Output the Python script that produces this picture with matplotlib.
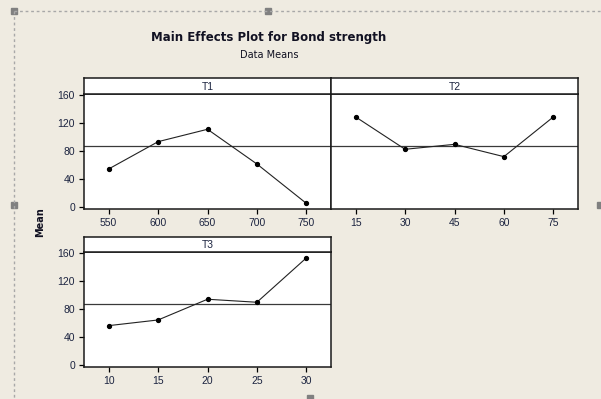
import matplotlib
matplotlib.use("Agg")
import matplotlib.pyplot as plt
from matplotlib.patches import Rectangle

# Factor levels and data means for each factor
t1_levels = ["550", "600", "650", "700", "750"]
t1_means = [54.3, 93.3, 111.0, 61.4, 5.2]

t2_levels = ["15", "30", "45", "60", "75"]
t2_means = [128.6, 82.4, 89.5, 71.9, 128.6]

t3_levels = ["10", "15", "20", "25", "30"]
t3_means = [56.2, 64.3, 93.9, 89.6, 152.9]

grand_mean = 87.8
y_ticks = [0, 40, 80, 120, 160]

W, H = 601, 399
BG = "#EFEBE1"
TXT = "#1c2440"

plt.rcParams["font.family"] = ["Liberation Sans", "DejaVu Sans"]
fig = plt.figure(figsize=(W / 100, H / 100), dpi=100)
fig.patch.set_facecolor(BG)


def rect(x0, y0, x1, y1):
    return [x0 / W, 1 - y1 / H, (x1 - x0) / W, (y1 - y0) / H]


def panel(x0, x1, ytop, ybot, strip_h, levels, means, label, show_y):
    ax = fig.add_axes(rect(x0, ytop, x1, ybot))
    ax.set_facecolor("white")
    xs = list(range(len(levels)))
    ax.axhline(grand_mean, color="#3a3a3a", lw=0.9, zorder=1)
    ax.plot(xs, means, color="#222222", lw=0.8, marker="o", ms=2.8,
            mfc="black", mec="black", zorder=3)
    ax.set_xlim(-0.5, len(levels) - 0.5)
    ax.set_ylim(-2.9, 161.4)
    ax.set_xticks(xs)
    ax.set_xticklabels(levels)
    ax.set_yticks(y_ticks)
    if not show_y:
        ax.tick_params(axis="y", left=False, labelleft=False)
    ax.tick_params(direction="out", length=3.5, width=0.9, colors="black",
                   labelcolor=TXT, labelsize=7.5, pad=3)
    for s in ax.spines.values():
        s.set_linewidth(1.1)
        s.set_color("#1a1a1a")
    # strip header above the data area
    sx = fig.add_axes(rect(x0, ytop - strip_h, x1, ytop))
    sx.set_facecolor("white")
    sx.set_xticks([])
    sx.set_yticks([])
    for s in sx.spines.values():
        s.set_linewidth(1.1)
        s.set_color("#1a1a1a")
    sx.text(0.5, 0.45, label, ha="center", va="center", fontsize=7.5,
            color=TXT, transform=sx.transAxes)
    return ax


panel(84, 331, 94, 209, 16, t1_levels, t1_means, "T1", True)
panel(331, 578, 94, 209, 16, t2_levels, t2_means, "T2", False)
panel(84, 331, 252, 367, 15, t3_levels, t3_means, "T3", True)

fig.text(269 / W, 1 - 38 / H, "Main Effects Plot for Bond strength",
         ha="center", va="center", fontsize=8.5, fontweight="bold",
         color="#111122", family="DejaVu Sans")
fig.text(269 / W, 1 - 55 / H, "Data Means", ha="center", va="center",
         fontsize=7, color="#111122", family="DejaVu Sans")
fig.text(40 / W, 1 - 222 / H, "Mean", ha="center", va="center", rotation=90,
         fontsize=7, fontweight="bold", color="#111122", family="DejaVu Sans")

# dashed selection frame with handles
frame = fig.add_axes([0, 0, 1, 1], facecolor="none")
frame.set_xlim(0, W)
frame.set_ylim(H, 0)
frame.axis("off")
frame.plot([14, 14], [11, 399], ls=(0, (2, 2)), color="#a8a8a8", lw=1)
frame.plot([14, 601], [11, 11], ls=(0, (2, 2)), color="#a8a8a8", lw=1)
for hx, hy in [(14, 11), (268, 11), (14, 205), (600, 205), (310, 398)]:
    frame.add_patch(Rectangle((hx - 3, hy - 3), 6, 6, color="#808080"))

fig.savefig("out.png", dpi=100, facecolor=BG)
